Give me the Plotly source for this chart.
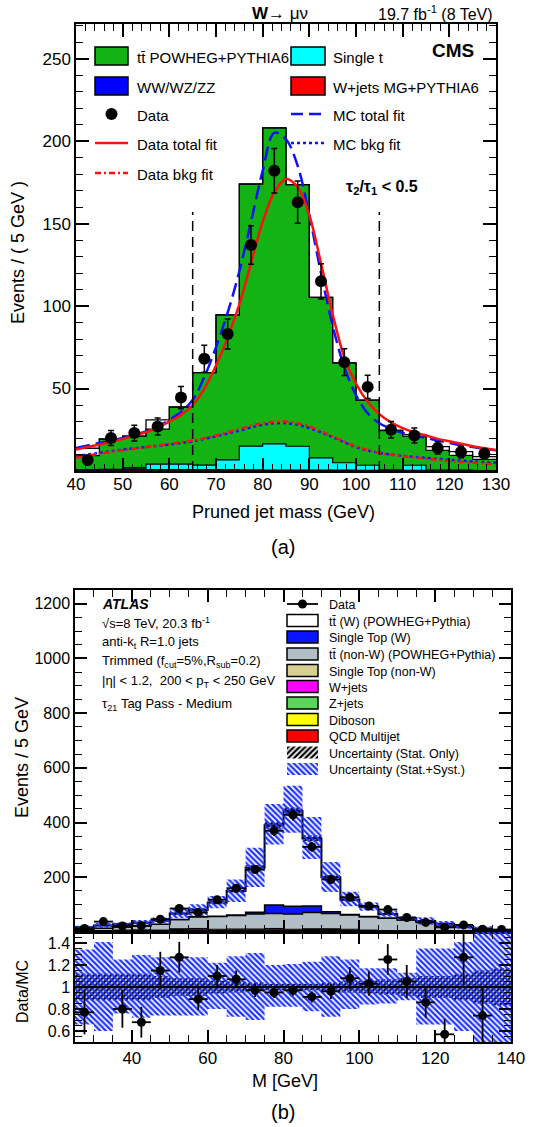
import numpy as np
import plotly.graph_objects as go

FIG_W, FIG_H = 539, 1127
FONT = "Liberation Sans, Arial, Helvetica, sans-serif"

# ---------------- (a) CMS, W -> mu nu, pruned jet mass ----------------
cms_edges = [40, 45, 50, 55, 60, 65, 70, 75, 80, 85, 90, 95, 100, 105, 110, 115, 120, 125, 130]
cms_wjets = [0.3, 0.3, 0.5, 0.5, 0.5, 0.5, 0.5, 0.4, 0.3, 0.3, 0.3, 0.3, 0.2, 0.2, 0.2, 0.2, 0.2, 0.1]
cms_diboson = [0.2, 0.2, 0.8, 0.3, 0.3, 0.3, 0.3, 0.3, 0.3, 0.3, 0.3, 0.3, 0.2, 0.2, 0.2, 0.1, 0.1, 0.1]
cms_single_t = [0.3, 0.5, 0.7, 3.4, 3.4, 2.8, 5.9, 14.4, 15.9, 14.4, 7.4, 4.4, 3.1, 0.3, 3.1, 0.2, 0.2, 0.1]
cms_ttbar = [8.5, 18.4, 19.2, 21.2, 34.6, 56.0, 88.0, 158.9, 191.5, 158.6, 97.3, 60.5, 39.5, 23.8, 17.5, 12.0, 9.0, 6.7]
cms_mc_total = [13.8, 19.4, 21.2, 31.0, 38.8, 59.6, 94.7, 174.0, 208.0, 173.6, 105.3, 65.5, 43.0, 24.8, 22.0, 14.8, 11.7, 8.7]
cms_data = [6.6, 20, 23, 27, 44.5, 68, 83, 137, 182, 163, 115, 66, 51, 25, 21.5, 14, 11.5, 10.5]
cms_data_err = [2.6, 4.5, 4.8, 5.2, 6.7, 8.2, 9.1, 11.7, 13.5, 12.8, 10.7, 8.1, 7.1, 5.0, 4.6, 3.7, 3.4, 3.2]

fit_mass = [40, 42.5, 45, 47.5, 50, 52.5, 55, 57.5, 60, 62.5, 65, 67.5, 70, 72.5, 75, 77.5, 80, 82.5,
            85, 87.5, 90, 92.5, 95, 97.5, 100, 102.5, 105, 107.5, 110, 112.5, 115, 117.5, 120, 122.5,
            125, 127.5, 130]
mc_total_fit = [14, 15.5, 17, 18.5, 20, 22, 24, 27, 31, 36, 43, 57, 75, 96, 121, 151, 182, 205,
                201, 185, 155, 120, 88, 63, 46, 35, 29, 25.5, 23, 21.5, 20, 18.5, 17, 15.5,
                14.5, 13.5, 12.5]
data_total_fit = [13, 14.5, 16, 17.5, 19.5, 21.5, 23.5, 26.5, 30, 34, 40, 50, 64, 81, 101, 126, 151, 169,
                  177, 172, 155, 126, 95, 69, 53, 42, 34.5, 29.5, 26, 23.5, 21.5, 19.5, 18, 16.5,
                  15, 13.8, 12.8]
bkg_mass = [40, 45, 50, 55, 60, 65, 70, 75, 80, 85, 90, 95, 100, 105, 110, 115, 120, 125, 130]
data_bkg_fit = [8, 10.5, 12.5, 14.5, 16.5, 18.5, 21.5, 25.5, 29, 30, 27, 21, 15, 11, 9, 7.5, 6, 5, 4]
mc_bkg_fit = [9, 11, 13, 14.5, 16, 18, 21, 24.5, 28, 29, 26, 20.5, 14.5, 11, 9.2, 8, 6.8, 5.8, 5]
cms_window = [65, 105]
cms_window_top = 157

# ---------------- (b) ATLAS, trimmed jet mass ----------------
atlas_edges = [25, 30, 35, 40, 45, 50, 55, 60, 65, 70, 75, 80, 85, 90, 95, 100, 105, 110, 115, 120,
               125, 130, 135, 140]
atl_qcd = [1, 1, 1, 1, 1, 4, 4, 1, 1, 1, 4, 1, 1, 3, 1, 1, 0, 0, 0, 0, 0, 0, 0]
atl_diboson = [0, 0, 0, 0, 0, 0, 1, 1, 1, 1, 1, 1, 1, 1, 1, 0, 0, 0, 0, 0, 0, 0, 0]
atl_zjets = [0, 0, 0, 0, 0, 1, 1, 1, 1, 1, 1, 1, 1, 1, 1, 1, 0, 0, 0, 0, 0, 0, 0]
atl_wjets = [2, 3, 4, 5, 4, 4, 4, 4, 5, 5, 4, 4, 6, 4, 4, 3, 3, 2, 2, 1, 1, 0, 0]
atl_st_nonw = [1, 1, 2, 2, 2, 3, 3, 3, 3, 3, 3, 3, 3, 3, 3, 2, 2, 2, 1, 1, 1, 1, 0]
atl_tt_nonw = [4, 9, 11, 14, 21, 34, 43, 47, 49, 55, 55, 56, 59, 56, 52, 49, 45, 40, 33, 20, 15, 9, 6]
atl_st_w = [0, 0, 0, 0, 0, 0, 0, 1, 2, 6, 31, 28, 24, 6, 2, 1, 1, 1, 0, 0, 0, 0, 0]
atl_tt_w = [9, 10, 10, 12, 14, 22, 24, 50, 88, 163, 291, 348, 247, 126, 54, 35, 15, 5, 4, 8, 3, 3, 1]
atl_data = [13, 38, 22, 23, 47, 86, 71, 118, 160, 228, 370, 428, 311, 192, 127, 95, 82, 53, 35, 17,
            26, 10, 9]
atl_data_err = [3.6, 6.2, 4.7, 4.8, 6.9, 9.3, 8.4, 10.9, 12.6, 15.1, 19.2, 20.7, 17.6, 13.9, 11.3,
                9.7, 9.1, 7.3, 5.9, 4.1, 5.1, 3.2, 3.0]
# relative uncertainty envelopes (Data/MC units)
syst_hi = [1.34, 1.41, 1.25, 1.29, 1.27, 1.27, 1.27, 1.22, 1.28, 1.31, 1.20, 1.21, 1.23, 1.28, 1.25,
           1.17, 1.17, 1.13, 1.35, 1.35, 1.41, 1.60, 1.60]
syst_lo = [0.66, 0.60, 0.76, 0.72, 0.74, 0.74, 0.74, 0.80, 0.73, 0.70, 0.82, 0.82, 0.78, 0.73, 0.80,
           0.84, 0.85, 0.88, 0.66, 0.66, 0.60, 0.40, 0.40]
stat_rel = [0.12, 0.12, 0.12, 0.12, 0.10, 0.08, 0.08, 0.06, 0.05, 0.04, 0.03, 0.03, 0.03, 0.04, 0.05,
            0.06, 0.07, 0.08, 0.10, 0.10, 0.12, 0.15, 0.17]
ratio_vals = [0.77, None, 0.80, 0.68, 1.15, 1.27, 0.89, 1.10, 1.07, 0.97, 0.95, 0.97, 0.91, 0.96,
              1.08, 1.03, 1.25, 1.05, 0.86, 0.57, 1.27, 0.74, None]
ratio_err = [0.20, None, 0.17, 0.14, 0.17, 0.14, 0.10, 0.10, 0.08, 0.06, 0.05, 0.05, 0.05, 0.07,
             0.10, 0.11, 0.14, 0.15, 0.14, 0.14, 0.25, 0.25, None]
half_bin = 2.5


def steps(vals):
    """Values for an 'hv' step line drawn over bin edges."""
    v = list(vals)
    return v + [v[-1]]


def centers(edges):
    return [(a + b) / 2 for a, b in zip(edges[:-1], edges[1:])]


fig = go.Figure()

# ---- (a) stacked templates ----
for vals, color in [(cms_wjets, "#ff0000"), (cms_diboson, "#0000ff"),
                    (cms_single_t, "#00ffff"), (cms_ttbar, "#12b312")]:
    fig.add_trace(go.Scatter(x=cms_edges, y=steps(vals), mode="lines", stackgroup="cms",
                             line=dict(shape="hv", color="black", width=1.2),
                             fillcolor=color, xaxis="x", yaxis="y", hoverinfo="skip"))
fig.add_trace(go.Scatter(x=cms_edges, y=steps(cms_mc_total), mode="lines",
                         line=dict(shape="hv", color="black", width=1.3),
                         xaxis="x", yaxis="y", hoverinfo="skip"))

# ---- (a) fit curves ----
fig.add_trace(go.Scatter(x=bkg_mass, y=mc_bkg_fit, mode="lines",
                         line=dict(shape="spline", color="#1010ff", width=2.5, dash="dot"),
                         xaxis="x", yaxis="y"))
fig.add_trace(go.Scatter(x=bkg_mass, y=data_bkg_fit, mode="lines",
                         line=dict(shape="spline", color="#ff1010", width=2.5, dash="6px,3px,2px,3px"),
                         xaxis="x", yaxis="y"))
fig.add_trace(go.Scatter(x=fit_mass, y=mc_total_fit, mode="lines",
                         line=dict(shape="spline", color="#1010ff", width=2.5, dash="14px,6px"),
                         xaxis="x", yaxis="y"))
fig.add_trace(go.Scatter(x=fit_mass, y=data_total_fit, mode="lines",
                         line=dict(shape="spline", color="#ff1010", width=2.5),
                         xaxis="x", yaxis="y"))

# ---- (a) data ----
fig.add_trace(go.Scatter(x=centers(cms_edges), y=cms_data, mode="markers",
                         marker=dict(color="black", size=12),
                         error_y=dict(type="data", array=cms_data_err, color="black",
                                      thickness=1.5, width=3),
                         xaxis="x", yaxis="y"))

# ---- (b) main panel stack ----
atlas_stack = [
    (atl_qcd, "#ff0000", 1.0),
    (atl_diboson, "#ffff00", 1.0),
    (atl_zjets, "#5ad65a", 1.0),
    (atl_wjets, "#ff00ff", 1.0),
    (atl_st_nonw, "#d5cf90", 1.0),
    (atl_tt_nonw, "#b2bec6", 1.5),
    (atl_st_w, "#0a14ff", 1.5),
    (atl_tt_w, "#ffffff", 2.0),
]
for vals, color, lw in atlas_stack:
    fig.add_trace(go.Scatter(x=atlas_edges, y=steps(vals), mode="lines", stackgroup="atlas",
                             line=dict(shape="hv", color="black", width=lw),
                             fillcolor=color, xaxis="x2", yaxis="y2", hoverinfo="skip"))

mc_total = np.sum([v for v, _, _ in atlas_stack], axis=0)
syst_hi_arr, syst_lo_arr, stat_arr = np.array(syst_hi), np.array(syst_lo), np.array(stat_rel)

BLUE_HATCH = dict(shape="\\", fgcolor="#1f33ff", bgcolor="rgba(0,0,0,0)", size=4, solidity=0.55)
BLACK_HATCH = dict(shape="/", fgcolor="#000000", bgcolor="rgba(0,0,0,0)", size=4, solidity=0.55)


def band(lo, hi, pattern, xa, ya):
    fig.add_trace(go.Scatter(x=atlas_edges, y=steps(lo), mode="lines",
                             line=dict(shape="hv", width=0), xaxis=xa, yaxis=ya, hoverinfo="skip"))
    fig.add_trace(go.Scatter(x=atlas_edges, y=steps(hi), mode="lines", fill="tonexty",
                             fillcolor="rgba(0,0,0,0)", fillpattern=pattern,
                             line=dict(shape="hv", width=0), xaxis=xa, yaxis=ya, hoverinfo="skip"))


band(mc_total * (1 - stat_arr), mc_total * (1 + stat_arr), BLACK_HATCH, "x2", "y2")
band(mc_total * syst_lo_arr, mc_total * syst_hi_arr, BLUE_HATCH, "x2", "y2")

fig.add_trace(go.Scatter(x=centers(atlas_edges), y=atl_data, mode="markers",
                         marker=dict(color="black", size=9),
                         error_x=dict(type="constant", value=half_bin, color="black", thickness=1.8, width=0),
                         error_y=dict(type="data", array=atl_data_err, color="black", thickness=1.8, width=0),
                         xaxis="x2", yaxis="y2"))

# ---- (b) ratio panel ----
band(1 - stat_arr, 1 + stat_arr, BLACK_HATCH, "x3", "y3")
band(syst_lo_arr, syst_hi_arr, BLUE_HATCH, "x3", "y3")
fig.add_trace(go.Scatter(x=[atlas_edges[0], atlas_edges[-1]], y=[1, 1], mode="lines",
                         line=dict(color="black", width=2.5), xaxis="x3", yaxis="y3"))
fig.add_trace(go.Scatter(x=centers(atlas_edges), y=ratio_vals, mode="markers",
                         marker=dict(color="black", size=9),
                         error_x=dict(type="constant", value=half_bin, color="black", thickness=1.8, width=0),
                         error_y=dict(type="data", array=ratio_err, color="black", thickness=1.8, width=0),
                         xaxis="x3", yaxis="y3"))

# ---------------- legends / labels (pixel overlay axes x4/y4) ----------------
shapes = []
annotations = []


def text(x, y, s, size=16, anchor="left", angle=0, bold=False):
    annotations.append(dict(x=x, y=y, xref="x4", yref="y4", text=f"<b>{s}</b>" if bold else s,
                            showarrow=False, xanchor=anchor, yanchor="middle", textangle=angle,
                            font=dict(family=FONT, size=size, color="black")))


def rect(x0, x1, yc, h, color, lw=1.5):
    shapes.append(dict(type="rect", xref="x4", yref="y4", x0=x0, x1=x1, y0=yc - h / 2, y1=yc + h / 2,
                       fillcolor=color, line=dict(color="black", width=lw), layer="above"))


def hline(x0, x1, y, color, dash="solid", width=2.5):
    shapes.append(dict(type="line", xref="x4", yref="y4", x0=x0, x1=x1, y0=y, y1=y,
                       line=dict(color=color, width=width, dash=dash), layer="above"))


# (a) legend
LEG_A = 15
rect(95, 128, 56, 18, "#12b312")
text(135, 57, "tt̄ POWHEG+PYTHIA6", size=LEG_A)
rect(95, 128, 86, 18, "#0000ff")
text(135, 87, "WW/WZ/ZZ", size=LEG_A)
fig.add_trace(go.Scatter(x=[111.5], y=[114], mode="markers", marker=dict(color="black", size=12),
                         xaxis="x4", yaxis="y4"))
text(135, 115, "Data", size=LEG_A)
hline(95, 128, 143, "#ff1010")
text(135, 144, "Data total fit", size=LEG_A)
hline(95, 128, 173, "#ff1010", dash="6px,3px,2px,3px")
text(135, 174, "Data bkg fit", size=LEG_A)
rect(291, 325, 56, 18, "#00ffff")
text(331, 57, "Single t", size=LEG_A)
rect(291, 325, 86, 18, "#ff0000")
text(331, 87, "W+jets MG+PYTHIA6", size=LEG_A)
hline(291, 325, 114, "#1010ff", dash="12px,6px")
text(331, 115, "MC total fit", size=LEG_A)
hline(291, 325, 143, "#1010ff", dash="dot")
text(331, 144, "MC bkg fit", size=LEG_A)

text(476, 50, "CMS", size=19, anchor="right", bold=True)
text(280, 13, "<b>W</b>→ μν", size=17, anchor="center")
text(495, 13, "19.7 fb<sup>-1</sup> (8 TeV)", size=16, anchor="right")
text(382, 187, "τ<sub>2</sub>/τ<sub>1</sub> &lt; 0.5", size=16, anchor="center", bold=True)
text(18, 253, "Events / ( 5 GeV )", size=18, anchor="center", angle=-90)
text(283, 512, "Pruned jet mass (GeV)", size=18, anchor="center")
text(283, 547, "(a)", size=20, anchor="center")

# (a) mass window markers
for xw in cms_window:
    shapes.append(dict(type="line", xref="x", yref="y", x0=xw, x1=xw, y0=0, y1=cms_window_top,
                       line=dict(color="black", width=1.5, dash="10px,6px"), layer="above"))

# (b) text block
annotations.append(dict(x=100, y=604, xref="x4", yref="y4", text="<b><i>ATLAS</i></b>", showarrow=False,
                        xanchor="left", yanchor="middle", font=dict(family=FONT, size=14, color="black")))
text(100, 623, "√s=8 TeV, 20.3 fb<sup>-1</sup>", size=13)
text(100, 642, "anti-k<sub>t</sub> R=1.0 jets", size=13)
text(100, 661, "Trimmed (f<sub>cut</sub>=5%,R<sub>sub</sub>=0.2)", size=13)
text(100, 681, "|η| &lt; 1.2,  200 &lt; p<sub>T</sub> &lt; 250 GeV", size=13)
text(100, 704, "τ<sub>21</sub> Tag Pass - Medium", size=13)

# (b) legend
leg_rows = [604, 620.5, 637, 654, 670.5, 686.5, 703, 719.5, 736, 752.5, 769]
hline(287, 318, leg_rows[0], "black", width=1.8)
fig.add_trace(go.Scatter(x=[302.5], y=[leg_rows[0]], mode="markers", marker=dict(color="black", size=9),
                         xaxis="x4", yaxis="y4"))
labels_b = ["Data", "tt̄ (W) (POWHEG+Pythia)", "Single Top (W)", "tt̄ (non-W) (POWHEG+Pythia)",
            "Single Top (non-W)", "W+jets", "Z+jets", "Diboson", "QCD Multijet",
            "Uncertainty (Stat. Only)", "Uncertainty (Stat.+Syst.)"]
swatch_b = [None, "#ffffff", "#0a14ff", "#b2bec6", "#d5cf90", "#ff00ff", "#5ad65a", "#ffff00", "#ff0000"]
for i, lab in enumerate(labels_b):
    yc = leg_rows[i]
    if 1 <= i <= 8:
        rect(287, 318, yc, 12, swatch_b[i], lw=1.5)
    text(327, yc + 1, lab, size=12.5)
for yc, pat in [(leg_rows[9], BLACK_HATCH), (leg_rows[10], BLUE_HATCH)]:
    fig.add_trace(go.Scatter(x=[287, 318, 318, 287, 287], y=[yc - 6, yc - 6, yc + 6, yc + 6, yc - 6],
                             mode="lines", fill="toself", fillcolor="rgba(0,0,0,0)", fillpattern=pat,
                             line=dict(width=0), xaxis="x4", yaxis="y4"))

text(22, 758, "Events / 5 GeV", size=18, anchor="center", angle=-90)
text(22, 992, "Data/MC", size=16, anchor="center", angle=-90)
text(285, 1081, "M [GeV]", size=18, anchor="center")
text(283, 1112, "(b)", size=20, anchor="center")


# ---------------- axes ----------------
def axis(**kw):
    base = dict(showline=True, linecolor="black", linewidth=1.5, mirror="allticks", ticks="inside",
                tickcolor="black", tickwidth=1.5, showgrid=False, zeroline=False,
                tickfont=dict(family=FONT, size=16, color="black"))
    base.update(kw)
    return base


def minor(dtick, length=7):
    return dict(ticks="inside", ticklen=length, tickcolor="black", tickwidth=1, dtick=dtick, tick0=0,
                showgrid=False)


def px_x(p):
    return p / FIG_W


def px_y(p):
    return 1 - p / FIG_H


fig.update_layout(
    width=FIG_W, height=FIG_H, margin=dict(l=0, r=0, t=0, b=0), autosize=False,
    template="none", paper_bgcolor="white", plot_bgcolor="rgba(0,0,0,0)", showlegend=False,
    font=dict(family=FONT, color="black"),
    xaxis=axis(domain=[px_x(76), px_x(496)], range=[40, 130], anchor="y", tickmode="linear",
               tick0=40, dtick=10, ticklen=13, minor=minor(2),
               tickfont=dict(family=FONT, size=17, color="black"), ticklabelstandoff=-3),
    yaxis=axis(domain=[px_y(471), px_y(24)], range=[0, 271], anchor="x", tickmode="array",
               tickvals=[50, 100, 150, 200, 250], ticklen=13, minor=minor(10),
               tickfont=dict(family=FONT, size=17, color="black")),
    xaxis2=axis(domain=[px_x(75), px_x(511)], range=[25, 140], anchor="y2", tickmode="linear",
                tick0=0, dtick=20, ticklen=12, minor=minor(5), showticklabels=False),
    yaxis2=axis(domain=[px_y(932), px_y(590)], range=[0, 1250], anchor="x2", tickmode="array",
                tickvals=[200, 400, 600, 800, 1000, 1200], ticklen=12, minor=minor(50)),
    xaxis3=axis(domain=[px_x(75), px_x(511)], range=[25, 140], anchor="y3", tickmode="linear",
                tick0=0, dtick=20, ticklen=12, minor=minor(5),
                tickfont=dict(family=FONT, size=17, color="black"), ticklabelstandoff=0),
    yaxis3=axis(domain=[px_y(1042), px_y(932)], range=[0.5, 1.5], anchor="x3", tickmode="array",
                tickvals=[0.6, 0.8, 1.0, 1.2, 1.4], ticktext=["0.6", "0.8", "1", "1.2", "1.4"],
                ticklen=12, minor=minor(0.05)),
    xaxis4=dict(domain=[0, 1], range=[0, FIG_W], anchor="y4", visible=False, fixedrange=True),
    yaxis4=dict(domain=[0, 1], range=[FIG_H, 0], anchor="x4", visible=False, fixedrange=True),
    shapes=shapes,
    annotations=annotations,
)

fig.write_html("out.html")
